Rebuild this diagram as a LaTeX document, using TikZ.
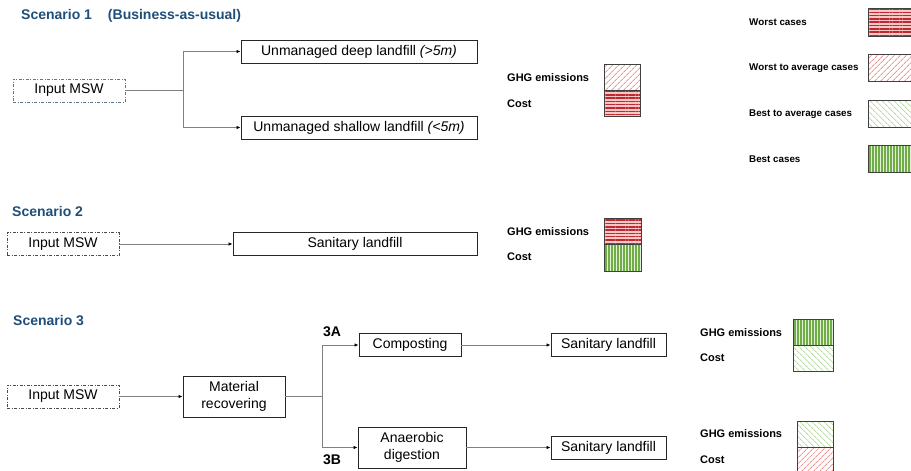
\documentclass[tikz,border=0pt]{standalone}
\usepackage{fontspec}
\setmainfont{Liberation Sans}
\usetikzlibrary{arrows.meta,patterns.meta}

\definecolor{titleblue}{RGB}{31,78,121}
\definecolor{worstred}{RGB}{192,40,48}
\definecolor{worstbg}{RGB}{246,200,200}
\definecolor{midred}{RGB}{244,150,150}
\definecolor{midgreen}{RGB}{186,220,165}
\definecolor{bestgreen}{RGB}{112,173,71}
\definecolor{bestbg}{RGB}{226,240,217}
\definecolor{inputblue}{RGB}{90,120,150}

\begin{document}
\begin{tikzpicture}[x=1pt,y=-1pt,
    box/.style={draw=black!85,line width=0.9pt,inner sep=0pt,minimum height=23pt,
      font=\fontsize{14}{17.5}\selectfont,align=center},
    inbox/.style={box,draw=black!70,dash pattern=on 3pt off 1.5pt on 1pt off 1.5pt,
      minimum width=112pt},
    conn/.style={draw=black!50,line width=0.8pt},
    arr/.style={conn,-{Latex[length=4pt,width=3.5pt,black]}},
    title/.style={anchor=west,inner sep=0pt,text=titleblue,font=\bfseries\fontsize{14}{16}\selectfont},
    lab/.style={anchor=west,inner sep=0pt,font=\bfseries\fontsize{11}{13}\selectfont},
    leglab/.style={anchor=west,inner sep=0pt,font=\bfseries\fontsize{9.8}{12}\selectfont},
    tag/.style={inner sep=0pt,font=\bfseries\fontsize{14}{16}\selectfont},
    cell/.style={draw=black!75,line width=0.8pt},
    worst/.style={cell,preaction={fill=worstbg},pattern={Lines[angle=0,distance=3.3pt,line width=1.5pt]},pattern color=worstred},
    worstavg/.style={cell,pattern={Lines[angle=45,distance=4pt,line width=1pt]},pattern color=midred},
    bestavg/.style={cell,pattern={Lines[angle=-45,distance=4pt,line width=1pt]},pattern color=midgreen},
    best/.style={cell,preaction={fill=bestbg},pattern={Lines[angle=90,distance=3pt,line width=1.3pt]},pattern color=bestgreen}]
  \useasboundingbox (0,0) rectangle (911,471);
  \clip (0,0) rectangle (911,471);

  % legend
  \node[leglab] (lg1) at (749,22) {Worst cases};
  \node[leglab] (lg2) at (749,68) {Worst to average cases};
  \node[leglab] (lg3) at (749,114) {Best to average cases};
  \node[leglab] (lg4) at (749,159) {Best cases};
  \draw[worst] (868,8) rectangle (916,36);
  \draw[worstavg] (868,54) rectangle (916,81);
  \draw[bestavg] (868,100) rectangle (916,127);
  \draw[best] (868,145) rectangle (916,172);

  % scenario 1
  \node[title] (t1) at (21,16) {Scenario 1\hspace{16pt}(Business-as-usual)};
  \node[inbox,draw=inputblue] (in1) at (69,90.5) {Input MSW};
  \node[box,minimum width=236pt] (deep) at (359,51.5) {Unmanaged deep landfill \textit{(>5m)}};
  \node[box,minimum width=236pt] (shallow) at (359,127.5) {Unmanaged shallow landfill \textit{(<5m)}};
  \coordinate (b1) at (183,90.5);
  \draw[conn] (in1) -- (b1);
  \draw[arr] (b1) |- (deep);
  \draw[arr] (b1) |- (shallow);
  \node[lab] (ghg1) at (507,78) {GHG emissions};
  \node[lab] (cost1) at (507,104) {Cost};
  \draw[worstavg] (604,64) rectangle (640,90);
  \draw[worst] (604,90) rectangle (640,116);

  % scenario 2
  \node[title] (t2) at (12,211) {Scenario 2};
  \node[inbox] (in2) at (63,244) {Input MSW};
  \node[box,minimum width=244pt] (land2) at (355,244) {Sanitary landfill};
  \draw[arr] (in2) -- (land2);
  \node[lab] (ghg2) at (507,232) {GHG emissions};
  \node[lab] (cost2) at (507,257) {Cost};
  \draw[worst] (604,218) rectangle (641,244);
  \draw[best] (604,244) rectangle (641,271);

  % scenario 3
  \node[title] (t3) at (13,321) {Scenario 3};
  \node[inbox] (in3) at (63,396.5) {Input MSW};
  \node[box,minimum width=102pt,minimum height=41pt] (mat) at (234,396.5) {Material\\recovering};
  \coordinate (b3) at (322,396.5);
  \draw[arr] (in3) -- (mat);
  \draw[conn] (mat) -- (b3);
  \node[box,minimum width=102pt] (comp) at (410,345) {Composting};
  \node[box,minimum width=108pt,minimum height=41pt] (anae) at (412,447.5) {Anaerobic\\digestion};
  \draw[arr] (b3) |- (comp);
  \draw[arr] (b3) |- (anae);
  \node[tag] (l3a) at (332,332) {3A};
  \node[tag] (l3b) at (332,460) {3B};
  \node[box,minimum width=115pt] (sl3a) at (608.5,345) {Sanitary landfill};
  \node[box,minimum width=115pt] (sl3b) at (608.5,447.5) {Sanitary landfill};
  \draw[arr] (comp) -- (sl3a);
  \draw[arr] (anae) -- (sl3b);
  \node[lab] (ghg3a) at (700,333) {GHG emissions};
  \node[lab] (cost3a) at (700,358) {Cost};
  \draw[best] (793,319) rectangle (833,345);
  \draw[bestavg] (793,345) rectangle (833,371);
  \node[lab] (ghg3b) at (700,434) {GHG emissions};
  \node[lab] (cost3b) at (700,460) {Cost};
  \draw[bestavg] (797,421) rectangle (833,447);
  \draw[worstavg] (797,447) rectangle (833,476);
\end{tikzpicture}
\end{document}
